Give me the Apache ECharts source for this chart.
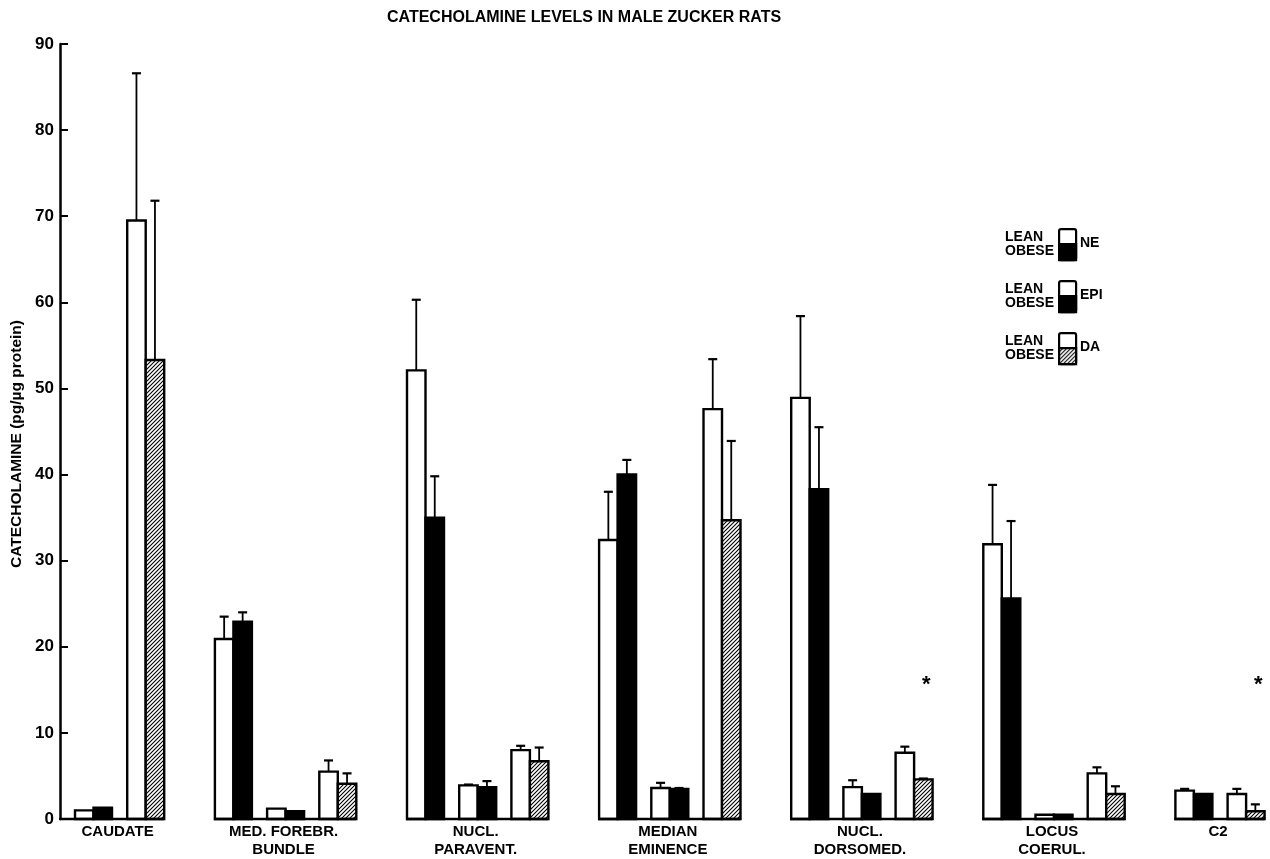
<!DOCTYPE html>
<html>
<head>
<meta charset="utf-8">
<title>Catecholamine levels in male Zucker rats</title>
<script src="https://cdn.jsdelivr.net/npm/echarts@6/dist/echarts.min.js"></script>
<style>
  html, body { margin: 0; padding: 0; background: #fff; }
  #main { width: 1270px; height: 859px; }
</style>
</head>
<body>
<div id="main"></div>
<script>
// brain regions (x groups)
var regions = ['CAUDATE', 'MED. FOREBR.\nBUNDLE', 'NUCL.\nPARAVENT.', 'MEDIAN\nEMINENCE',
    'NUCL.\nDORSOMED.', 'LOCUS\nCOERUL.', 'C2']
var measures = ['NE', 'EPI', 'DA']
var yTicks = [0, 10, 20, 30, 40, 50, 60, 70, 80, 90]

// means, pg/ug protein (null = not measured)
var neLean = [1.0, 20.9, 52.1, 32.4, 48.9, 31.9, 3.3]
var neObese = [1.3, 22.9, 35.0, 40.0, 38.3, 25.6, 2.9]
var epiLean = [null, 1.2, 3.9, 3.6, 3.7, 0.5, null]
var epiObese = [null, 0.9, 3.7, 3.5, 2.9, 0.5, null]
var daLean = [69.5, 5.5, 8.0, 47.6, 7.7, 5.3, 2.9]
var daObese = [53.3, 4.1, 6.7, 34.7, 4.6, 2.9, 0.9]

// SEM
var neLeanSem = [0, 2.6, 8.2, 5.6, 9.5, 6.9, 0.2]
var neObeseSem = [0, 1.1, 4.8, 1.7, 7.2, 9.0, 0]
var epiLeanSem = [null, 0, 0.1, 0.6, 0.8, 0, null]
var epiObeseSem = [null, 0, 0.7, 0.1, 0, 0, null]
var daLeanSem = [17.1, 1.3, 0.5, 5.8, 0.7, 0.7, 0.6]
var daObeseSem = [18.5, 1.2, 1.6, 9.2, 0.1, 0.9, 0.8]

// significant differences (marked with *)
var starred = [['NUCL.\nDORSOMED.', 'DA'], ['C2', 'DA']]

var leanVals = { NE: neLean, EPI: epiLean, DA: daLean }
var obeseVals = { NE: neObese, EPI: epiObese, DA: daObese }
var leanSem = { NE: neLeanSem, EPI: epiLeanSem, DA: daLeanSem }
var obeseSem = { NE: neObeseSem, EPI: epiObeseSem, DA: daObeseSem }

// layout (x axis units = px inside the grid)
var BAR_W = 18.5
var PITCH = 52.2   // pair to pair inside a group
var GAP = 35.5     // extra space between groups
var X0 = 15
var STAR_AT = 16

// bars: [x, value, sem, kind(0 white,1 black,2 hatched), star]
var bars = []
var groups = []
var slot = 0
regions.forEach(function (r, g) {
    var first = null
    var last = null
    measures.forEach(function (m) {
        if (leanVals[m][g] == null) return
        var x = X0 + slot * PITCH + g * GAP
        var star = starred.some(function (s) { return s[0] === r && s[1] === m }) ? 1 : 0
        bars.push([x, leanVals[m][g], leanSem[m][g] || 0, 0, 0])
        bars.push([x + BAR_W, obeseVals[m][g], obeseSem[m][g] || 0, m === 'DA' ? 2 : 1, star])
        if (first === null) first = x
        last = x + 2 * BAR_W
        slot++
    })
    groups.push([g === 0 ? 0 : first, last, g, first])
})

// hatch pattern for DA obese
function hatch () {
    var c = document.createElement('canvas')
    c.width = 4
    c.height = 4
    var ctx = c.getContext('2d')
    ctx.fillStyle = '#fff'
    ctx.fillRect(0, 0, 4, 4)
    ctx.strokeStyle = '#000'
    ctx.lineWidth = 1.1
    ctx.beginPath()
    ctx.moveTo(-1, 5); ctx.lineTo(5, -1)
    ctx.moveTo(-1, 1); ctx.lineTo(1, -1)
    ctx.moveTo(3, 5); ctx.lineTo(5, 3)
    ctx.stroke()
    return c
}
var hatchFill = { image: hatch(), repeat: 'repeat' }
var fills = ['#fff', '#000', hatchFill]

var font = 'Liberation Sans'

function legendItem (top, label, bottomFill) {
    return [
        { type: 'text', left: 1005, top: top + 2,
            style: { text: 'LEAN\nOBESE', font: 'bold 14px ' + font, lineHeight: 14, fill: '#000' } },
        { type: 'rect', left: 1058, top: top, shape: { width: 17, height: 31, r: 2 },
            style: { fill: '#fff', stroke: '#000', lineWidth: 2.2 } },
        { type: 'rect', left: 1058, top: top + 15, shape: { width: 17, height: 16 },
            style: { fill: bottomFill, stroke: '#000', lineWidth: 2.2 } },
        { type: 'text', left: 1080, top: top + 8,
            style: { text: label, font: 'bold 14px ' + font, fill: '#000' } }
    ]
}

var chart = echarts.init(document.getElementById('main'))
chart.setOption({
    backgroundColor: '#fff',
    animation: false,
    title: {
        text: 'CATECHOLAMINE LEVELS IN MALE ZUCKER RATS',
        left: 382,
        top: 5,
        textStyle: { fontFamily: font, fontSize: 16, fontWeight: 'bold', color: '#000' }
    },
    grid: { left: 60, right: 0, top: 44, bottom: 40 },
    xAxis: {
        type: 'value', min: 0, max: 1210, show: false
    },
    yAxis: {
        type: 'value',
        min: yTicks[0],
        max: yTicks[yTicks.length - 1],
        interval: 10,
        axisLine: { show: true, lineStyle: { color: '#000', width: 2.5 } },
        axisTick: { show: true, inside: true, length: 8, lineStyle: { color: '#000', width: 2 } },
        axisLabel: { fontFamily: font, fontSize: 17, fontWeight: 'bold', color: '#000', margin: 6 },
        splitLine: { show: false }
    },
    graphic: [].concat(
        [{
            type: 'text', x: 17, y: 444, rotation: Math.PI / 2,
            style: { text: 'CATECHOLAMINE (pg/\u00b5g protein)', font: 'bold 15.5px ' + font,
                textAlign: 'center', textVerticalAlign: 'middle', fill: '#000' }
        }],
        legendItem(228, 'NE', '#000'),
        legendItem(280, 'EPI', '#000'),
        legendItem(332, 'DA', hatchFill)
    ),
    series: [
        {
            type: 'custom',
            name: 'bars',
            clip: false,
            data: bars,
            renderItem: function (params, api) {
                var x = api.value(0)
                var v = api.value(1)
                var s = api.value(2)
                var kind = api.value(3)
                var p0 = api.coord([x, 0])
                var p1 = api.coord([x + BAR_W, v])
                var cx = (p0[0] + p1[0]) / 2
                var children = [{
                    type: 'rect',
                    shape: { x: p0[0], y: p1[1], width: p1[0] - p0[0], height: p0[1] - p1[1] },
                    style: { fill: fills[kind], stroke: '#000', lineWidth: 2.4 }
                }]
                if (s > 0) {
                    var pe = api.coord([x, v + s])
                    children.push({
                        type: 'line', shape: { x1: cx, y1: p1[1], x2: cx, y2: pe[1] },
                        style: { stroke: '#000', lineWidth: 1.8 }
                    })
                    children.push({
                        type: 'line', shape: { x1: cx - 4.5, y1: pe[1], x2: cx + 4.5, y2: pe[1] },
                        style: { stroke: '#000', lineWidth: 2.2 }
                    })
                }
                if (api.value(4)) {
                    var ps = api.coord([x, STAR_AT])
                    children.push({
                        type: 'text',
                        style: { text: '*', x: cx + 3, y: ps[1] + 4, font: 'bold 22px ' + font,
                            textAlign: 'center', textVerticalAlign: 'middle', fill: '#000' }
                    })
                }
                return { type: 'group', children: children }
            }
        },
        {
            type: 'custom',
            name: 'groups',
            clip: false,
            data: groups,
            renderItem: function (params, api) {
                var a = api.coord([api.value(0), 0])
                var b = api.coord([api.value(1), 0])
                var f = api.coord([api.value(3), 0])
                return {
                    type: 'group',
                    children: [
                        { type: 'line', shape: { x1: a[0] - 1, y1: a[1], x2: b[0], y2: b[1] },
                            style: { stroke: '#000', lineWidth: 2.5 } },
                        { type: 'text',
                            style: { text: regions[api.value(2)],
                                x: (f[0] + b[0]) / 2 - 2,
                                y: a[1] + 4,
                                font: 'bold 15px ' + font, lineHeight: 18,
                                textAlign: 'center', textVerticalAlign: 'top', fill: '#000' } }
                    ]
                }
            }
        }
    ]
})
</script>
</body>
</html>
